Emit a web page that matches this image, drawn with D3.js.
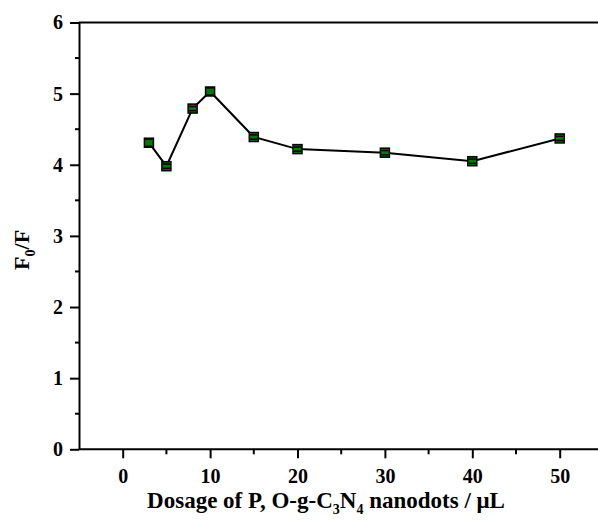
<!DOCTYPE html>
<html>
<head>
<meta charset="utf-8">
<script src="https://cdn.jsdelivr.net/npm/d3@7"></script>
<style>
  body { margin: 0; background: white; }
  svg { display: block; }
</style>
</head>
<body>
<svg width="598" height="522"></svg>
<script>
// data
const dosage = [3, 5, 8, 10, 15, 20, 30, 40, 50];
const ratio = [4.31, 3.98, 4.79, 5.03, 4.39, 4.22, 4.17, 4.05, 4.37];
const errs = [0.05, 0.03, 0.03, 0.05, 0.03, 0.03, 0.03, 0.03, 0.03];
const xTicks = [0, 10, 20, 30, 40, 50];
const yTicks = [0, 1, 2, 3, 4, 5, 6];

const svg = d3.select('svg');
const width = +svg.attr('width');
const height = +svg.attr('height');
const font = '"Liberation Serif", "Times New Roman", serif';

const plotLeft = 79, plotTop = 22.5, plotBottom = 449.3;

const x = d3.scaleLinear().domain([-5, 55]).range([plotLeft, plotLeft + 60 * 8.74]);
const y = d3.scaleLinear().domain([0, 6]).range([plotBottom, plotTop]);

// top frame line
svg.append('line')
  .attr('x1', plotLeft).attr('x2', width + 5)
  .attr('y1', plotTop).attr('y2', plotTop)
  .attr('stroke', 'black').attr('stroke-width', 2);

// minor ticks
const xMinor = d3.range(-5, 56, 5).filter(d => !xTicks.includes(d) && d > -5);
const yMinor = d3.range(0.5, 6, 1);

const xAxis = svg.append('g')
  .attr('transform', `translate(0,${plotBottom})`)
  .call(d3.axisBottom(x).tickValues(xTicks).tickFormat(d3.format('d'))
    .tickSize(9).tickPadding(11).tickSizeOuter(0));
xAxis.select('.domain').attr('stroke-width', 2).attr('d', `M${plotLeft},0H${width + 5}`);

svg.append('g')
  .attr('transform', `translate(0,${plotBottom})`)
  .selectAll('line')
  .data(xMinor)
  .join('line')
    .attr('x1', d => x(d)).attr('x2', d => x(d))
    .attr('y1', 0).attr('y2', 5)
    .attr('stroke', 'black').attr('stroke-width', 2);

const yAxis = svg.append('g')
  .attr('transform', `translate(${plotLeft},0)`)
  .call(d3.axisLeft(y).tickValues(yTicks).tickFormat(d3.format('d'))
    .tickSize(9).tickPadding(7).tickSizeOuter(0));
yAxis.select('.domain').attr('stroke-width', 2);

svg.append('g')
  .attr('transform', `translate(${plotLeft},0)`)
  .selectAll('line')
  .data(yMinor)
  .join('line')
    .attr('x1', -4).attr('x2', 0)
    .attr('y1', d => y(d)).attr('y2', d => y(d))
    .attr('stroke', 'black').attr('stroke-width', 2);

[xAxis, yAxis].forEach(a => {
  a.selectAll('.tick line').attr('stroke-width', 2);
  a.selectAll('.tick text')
    .attr('font-family', font)
    .attr('font-size', 20)
    .attr('font-weight', 'bold')
    .attr('fill', 'black');
});

// line
const line = d3.line()
  .x((d, i) => x(dosage[i]))
  .y(d => y(d));

svg.append('path')
  .datum(ratio)
  .attr('d', line)
  .attr('fill', 'none')
  .attr('stroke', 'black')
  .attr('stroke-width', 2);

// markers
const s = 9;
const pts = svg.append('g')
  .selectAll('g')
  .data(ratio)
  .join('g')
    .attr('transform', (d, i) => `translate(${x(dosage[i])},${y(d)})`);

pts.append('rect')
  .attr('x', -s / 2).attr('y', -s / 2)
  .attr('width', s).attr('height', s)
  .attr('fill', '#007a00')
  .attr('stroke', 'black')
  .attr('stroke-width', 1.5);

// error bars
pts.each(function(d, i) {
  const g = d3.select(this);
  const h = y(d - errs[i]) - y(d);
  g.append('line')
    .attr('x1', 0).attr('x2', 0)
    .attr('y1', -h).attr('y2', h)
    .attr('stroke', '#1a6a1a').attr('stroke-width', 1.5);
  [-h, h].forEach(v => {
    g.append('line')
      .attr('x1', -3.5).attr('x2', 3.5)
      .attr('y1', v).attr('y2', v)
      .attr('stroke', 'black').attr('stroke-width', 1.5);
  });
});

// axis titles
const xt = svg.append('text')
  .attr('x', 326).attr('y', 508)
  .attr('text-anchor', 'middle')
  .attr('font-family', font)
  .attr('font-size', 23)
  .attr('font-weight', 'bold');
xt.append('tspan').text('Dosage of P, O-g-C');
xt.append('tspan').text('3').attr('font-size', 14).attr('dy', 6);
xt.append('tspan').text('N').attr('dy', -6);
xt.append('tspan').text('4').attr('font-size', 14).attr('dy', 6);
xt.append('tspan').text(' nanodots / \u03bcL').attr('dy', -6);

const yt = svg.append('text')
  .attr('transform', `translate(29,${(plotTop + plotBottom) / 2 + 14}) rotate(-90)`)
  .attr('text-anchor', 'middle')
  .attr('font-family', font)
  .attr('font-size', 22)
  .attr('font-weight', 'bold');
yt.append('tspan').text('F');
yt.append('tspan').text('0').attr('font-size', 14).attr('dy', 6);
yt.append('tspan').text('/F').attr('dy', -6);
</script>
</body>
</html>
